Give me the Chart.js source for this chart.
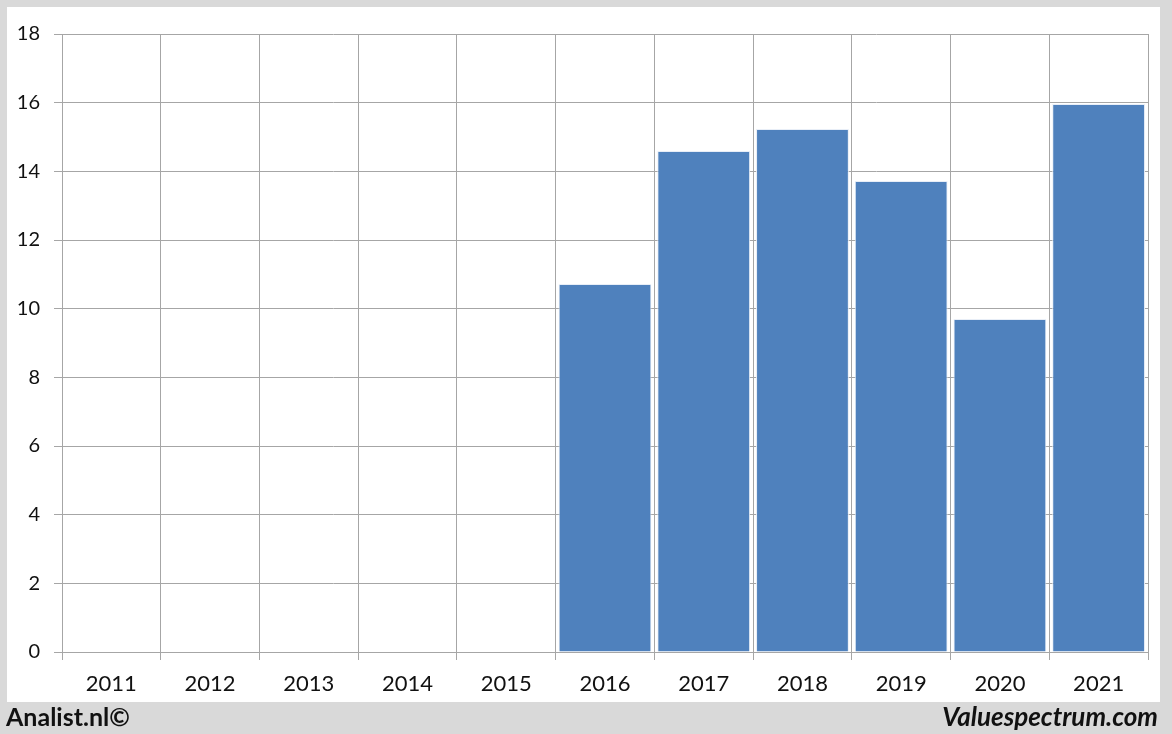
<!DOCTYPE html>
<html>
<head>
<meta charset="utf-8">
<script src="https://cdn.jsdelivr.net/npm/chart.js@4.4.0/dist/chart.umd.min.js"></script>
<style>
  html,body{margin:0;padding:0;}
  body{width:1172px;height:734px;background:#d9d9d9;position:relative;overflow:hidden;font-family:Lato,"Open Sans",sans-serif;}
  #panel{position:absolute;left:7px;top:7px;width:1153px;height:695px;background:#fff;}
  #chart{position:absolute;left:0;top:0;}
  .foot{position:absolute;top:701px;font-weight:bold;font-size:25px;color:#111;}
  #left{left:6px;}
  #right{right:14px;font-style:italic;font-size:26px;top:700px;}
</style>
</head>
<body>
<div id="panel"></div>
<canvas id="chart" width="1172" height="734"></canvas>
<div class="foot" id="left">Analist.nl©</div>
<div class="foot" id="right">Valuespectrum.com</div>
<script>
const years=["2011","2012","2013","2014","2015","2016","2017","2018","2019","2020","2021"];
const values=[null,null,null,null,null,10.72,14.59,15.23,13.72,9.70,15.96];
const yTicks=[0,2,4,6,8,10,12,14,16,18];

const gridColor="#a6a6a6";

new Chart(document.getElementById("chart").getContext("2d"),{
    type:"bar",
    data:{
        labels:years,
        datasets:[{
            data:values,
            backgroundColor:"#4f81bd",
            borderColor:"#e8eef7",
            borderWidth:1,
            categoryPercentage:1,
            barPercentage:0.94
        }]
    },
    options:{
        responsive:false,
        animation:false,
        devicePixelRatio:1,
        layout:{padding:{left:0,top:34,right:24,bottom:32}},
        plugins:{legend:{display:false},tooltip:{enabled:false}},
        scales:{
            x:{
                afterFit:function(scale){scale.height=50;},
                grid:{color:gridColor,lineWidth:1,offset:true,tickLength:8,drawTicks:true},
                border:{color:gridColor},
                ticks:{color:"#111",font:{family:"Lato",size:22},padding:11,maxRotation:0}
            },
            y:{
                min:0,max:18,
                afterFit:function(scale){scale.width=62;},
                afterBuildTicks:function(scale){scale.ticks=yTicks.map(v=>({value:v}));},
                grid:{color:gridColor,lineWidth:1,tickLength:8},
                border:{display:false},
                ticks:{color:"#111",font:{family:"Lato",size:20},padding:14}
            }
        }
    }
});
</script>
</body>
</html>
